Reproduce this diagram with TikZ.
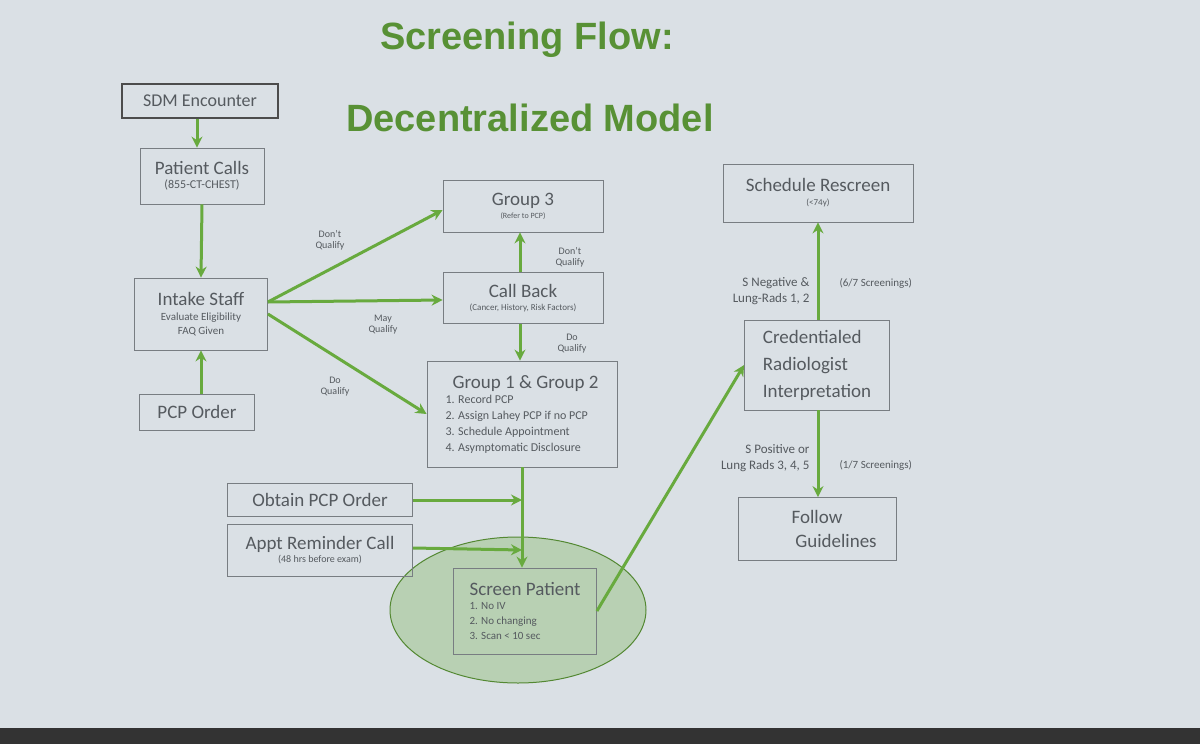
\documentclass[tikz,border=0pt]{standalone}
\usepackage{fontspec}
\setmainfont{Carlito}
\newfontfamily\titlefont{Liberation Sans}
\usetikzlibrary{arrows.meta}
\definecolor{bg}{RGB}{218,224,229}
\definecolor{grn}{RGB}{104,170,62}
\definecolor{txt}{RGB}{85,90,95}
\definecolor{bord}{RGB}{120,125,130}
\begin{document}
\begin{tikzpicture}[x=1pt,y=-1pt,
  box/.style={draw=bord,line width=0.8pt,align=center,text=txt,inner sep=0pt},
  arr/.style={draw=grn,line width=3pt,-{Stealth[length=11pt,width=11pt]}},
  lbl/.style={text=txt,font=\fontsize{10}{11}\selectfont,align=center}]
\fill[bg] (0,0) rectangle (1200,744);
\fill[black!80] (0,728) rectangle (1200,744);
\useasboundingbox (0,0) rectangle (1200,744);
\node[text=grn!85!black,font=\titlefont\bfseries\fontsize{38}{42}\selectfont] at (527,40) {Screening Flow:};
\node[text=grn!85!black,font=\titlefont\bfseries\fontsize{38}{42}\selectfont] at (530,118) {Decentralized Model};
% ellipse
\filldraw[fill=grn!30!bg,draw=grn!80!black,line width=1pt] (518,610) ellipse [x radius=128,y radius=73];
% boxes
\node[box,draw=black!70,line width=1.2pt,minimum width=156,minimum height=34,font=\fontsize{18}{20}\selectfont] (sdm) at (200,101) {SDM Encounter};
\node[box,minimum width=124,minimum height=56] (pc) at (202,176) {{\fontsize{19}{22}\selectfont Patient Calls}\\[2pt]{\fontsize{12}{14}\selectfont (855-CT-CHEST)}};
\node[box,minimum width=133,minimum height=72] (in) at (201,314) {{\fontsize{19}{22}\selectfont Intake Staff}\\[3pt]{\fontsize{11}{13}\selectfont Evaluate Eligibility}\\[2pt]{\fontsize{11}{13}\selectfont FAQ Given}};
\node[box,minimum width=115,minimum height=36,font=\fontsize{19}{22}\selectfont] (po) at (197,412) {PCP Order};
\node[box,minimum width=160,minimum height=52] (g3) at (523,206) {{\fontsize{19}{22}\selectfont Group 3}\\[1pt]{\fontsize{8}{10}\selectfont (Refer to PCP)}};
\node[box,minimum width=160,minimum height=51] (cb) at (523,298) {{\fontsize{19}{22}\selectfont Call Back}\\[1pt]{\fontsize{9}{10}\selectfont (Cancer, History, Risk Factors)}};
\node[box,minimum width=190,minimum height=106,align=left] (g12) at (522,414) {{\fontsize{19}{22}\selectfont \hspace*{7pt}Group 1 \& Group 2}\\[3pt]
 {\fontsize{12}{13}\selectfont 1. Record PCP}\\[4pt]
 {\fontsize{12}{13}\selectfont 2. Assign Lahey PCP if no PCP}\\[4pt]
 {\fontsize{12}{13}\selectfont 3. Schedule Appointment}\\[4pt]
 {\fontsize{12}{13}\selectfont 4. Asymptomatic Disclosure}};
\node[box,minimum width=190,minimum height=58] (sr) at (818,193) {{\fontsize{19}{22}\selectfont Schedule Rescreen}\\[2pt]{\fontsize{9}{10}\selectfont (<74y)}};
\node[box,minimum width=145,minimum height=90,font=\fontsize{19}{27}\selectfont,align=left] (cr) at (817,365) {Credentialed\\Radiologist\\Interpretation};
\node[box,minimum width=158,minimum height=63,font=\fontsize{19}{24}\selectfont] (fg) at (817,529) {Follow\\\hspace*{2em}Guidelines};
\node[box,minimum width=185,minimum height=33,font=\fontsize{19}{22}\selectfont] (ob) at (320,500) {Obtain PCP Order};
\node[box,minimum width=185,minimum height=52] (ap) at (320,550) {{\fontsize{19}{22}\selectfont Appt Reminder Call}\\[1pt]{\fontsize{10}{12}\selectfont (48 hrs before exam)}};
\node[box,minimum width=143,minimum height=86,align=left] (sp) at (525,611) {{\fontsize{19}{22}\selectfont Screen Patient}\\[2pt]
 {\fontsize{11}{13}\selectfont 1. No IV}\\[3pt]{\fontsize{11}{13}\selectfont 2. No changing}\\[3pt]{\fontsize{11}{13}\selectfont 3. Scan < 10 sec}};
% arrows
\draw[arr] (sdm.south -| 197,0) -- (pc.north -| 197,0);
\draw[arr] (pc.south) -- (in.north);
\draw[arr] (po.north -| 201,0) -- (in.south);
\draw[arr] ([yshift=12]in.east) -- ([yshift=-4]g3.west);
\draw[arr] ([yshift=12]in.east) -- ([yshift=-2]cb.west);
\draw[arr] ([yshift=0]in.east) -- ([yshift=0]g12.west);
\draw[arr] (cb.north -| 520,0) -- (g3.south -| 520,0);
\draw[arr] (cb.south -| 520,0) -- (g12.north -| 520,0);
\coordinate (j1) at (522,500);
\coordinate (j2) at (522,550);
\draw[arr] (g12.south -| 522,0) -- (sp.north -| 522,0);
\draw[arr] (ob.east) -- (j1);
\draw[arr] ([yshift=2]ap.east) -- (j2);
\draw[arr] (sp.east) -- (cr.west);
\draw[arr] (cr.north -| 818,0) -- (sr.south -| 818,0);
\draw[arr] (cr.south -| 818,0) -- (fg.north -| 818,0);
% labels
\node[lbl] at (330,240) {Don't\\Qualify};
\node[lbl] at (383,325) {May\\Qualify};
\node[lbl] at (335,387) {Do\\Qualify};
\node[lbl] at (570,257) {Don't\\Qualify};
\node[lbl] at (572,344) {Do\\Qualify};
\node[text=txt,font=\fontsize{13}{16}\selectfont,align=right,anchor=east] at (813,291) {S Negative \&\\Lung-Rads 1, 2};
\node[lbl,anchor=west,font=\fontsize{11}{13}\selectfont] at (836,283) {(6/7 Screenings)};
\node[text=txt,font=\fontsize{13}{16}\selectfont,align=right,anchor=east] at (813,458) {S Positive or\\Lung Rads 3, 4, 5};
\node[lbl,anchor=west,font=\fontsize{11}{13}\selectfont] at (836,465) {(1/7 Screenings)};
\end{tikzpicture}
\end{document}
